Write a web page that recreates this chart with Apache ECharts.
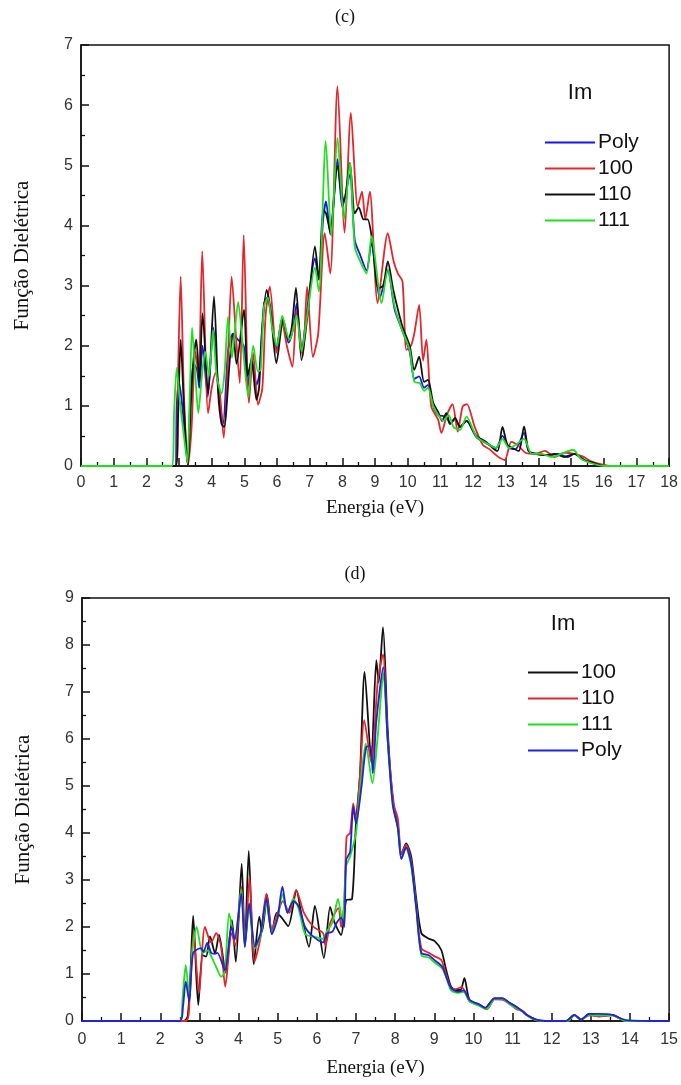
<!DOCTYPE html>
<html>
<head>
<meta charset="utf-8">
<script src="https://cdn.jsdelivr.net/npm/echarts@6/dist/echarts.min.js"></script>
<style>
html,body{margin:0;padding:0;background:#fff;}
#chart{width:681px;height:1085px;}
</style>
</head>
<body>
<div id="chart"></div>
<script>
// ---------- Panel (c) data: [energy (eV), Im] ----------
const c_poly = [[0,0],[2.88,0],[2.93,1.0],[3.0,1.4],[3.1,1.0],[3.26,0.05],[3.35,1.2],[3.45,1.7],[3.55,1.6],[3.62,1.3],[3.72,2.0],[3.88,1.15],[4.05,2.3],[4.2,1.3],[4.35,0.7],[4.5,1.9],[4.65,2.2],[4.8,2.1],[4.98,2.0],[5.1,1.3],[5.22,1.8],[5.37,1.35],[5.45,1.5],[5.6,2.7],[5.7,2.8],[5.98,1.95],[6.16,2.45],[6.35,2.05],[6.5,2.3],[6.6,2.7],[6.75,1.9],[6.92,2.6],[7.16,3.45],[7.28,3.1],[7.41,4.1],[7.5,4.4],[7.63,3.85],[7.85,5.1],[8.0,4.3],[8.23,4.85],[8.38,3.75],[8.55,3.5],[8.74,3.25],[8.89,3.7],[9.15,2.8],[9.39,3.25],[9.6,2.6],[9.8,2.3],[10.06,1.9],[10.2,1.45],[10.35,1.49],[10.5,1.3],[10.62,1.35],[10.78,1.0],[10.93,0.85],[11.18,0.82],[11.3,0.7],[11.45,0.78],[11.6,0.65],[11.8,0.75],[12.1,0.48],[12.4,0.38],[12.7,0.3],[12.9,0.5],[13.1,0.3],[13.3,0.28],[13.56,0.55],[13.7,0.25],[14.0,0.2],[14.3,0.18],[14.6,0.2],[14.9,0.15],[15.1,0.2],[15.4,0.1],[15.7,0.04],[16.0,0],[18,0]];
const c_100 = [[0,0],[2.9,0],[2.97,1.5],[3.05,3.15],[3.15,1.2],[3.27,0],[3.38,0.6],[3.5,1.9],[3.6,1.5],[3.71,3.57],[3.89,0.88],[4.0,1.3],[4.12,1.55],[4.25,1.2],[4.37,0.47],[4.5,1.8],[4.61,3.15],[4.75,2.1],[4.86,1.38],[4.98,3.84],[5.14,1.05],[5.27,1.88],[5.42,1.02],[5.55,1.3],[5.65,2.5],[5.78,2.98],[5.98,1.88],[6.14,2.43],[6.3,2.0],[6.47,1.65],[6.6,2.6],[6.79,1.82],[6.92,2.98],[7.1,1.81],[7.26,2.2],[7.46,3.87],[7.63,3.2],[7.85,6.31],[8.07,3.88],[8.26,5.87],[8.47,4.31],[8.6,4.56],[8.7,4.1],[8.84,4.56],[9.08,2.71],[9.39,3.87],[9.57,3.4],[9.7,3.2],[9.84,3.07],[9.96,1.93],[10.1,2.0],[10.2,2.2],[10.35,2.68],[10.47,1.75],[10.57,2.1],[10.72,0.99],[10.93,0.77],[11.03,0.55],[11.2,0.85],[11.37,1.03],[11.53,0.57],[11.68,0.99],[11.81,1.03],[12.05,0.65],[12.3,0.35],[12.5,0.28],[12.75,0.16],[12.97,0.1],[13.17,0.4],[13.4,0.33],[13.6,0.22],[13.9,0.2],[14.2,0.25],[14.5,0.15],[14.8,0.22],[15.1,0.2],[15.35,0.16],[15.6,0.08],[15.9,0.03],[16.2,0],[18,0]];
const c_110 = [[0,0],[2.9,0],[2.97,0.8],[3.05,2.1],[3.15,1.0],[3.27,0],[3.36,1.0],[3.44,1.75],[3.53,2.1],[3.62,1.4],[3.72,2.54],[3.89,1.21],[4.07,2.82],[4.2,1.2],[4.3,0.7],[4.38,0.65],[4.56,1.8],[4.66,2.2],[4.76,1.7],[4.99,2.6],[5.1,1.5],[5.22,1.75],[5.37,1.1],[5.45,1.3],[5.55,2.3],[5.68,2.93],[5.8,2.6],[5.98,1.71],[6.19,2.43],[6.35,2.1],[6.45,2.3],[6.58,2.96],[6.75,1.76],[6.95,2.6],[7.16,3.65],[7.28,3.1],[7.41,4.26],[7.5,4.2],[7.63,3.9],[7.85,5.0],[7.97,4.54],[8.05,4.4],[8.23,5.04],[8.38,4.2],[8.5,4.3],[8.65,4.1],[8.77,4.1],[8.9,3.8],[9.1,2.95],[9.25,3.0],[9.39,3.4],[9.55,2.95],[9.7,2.6],[9.85,2.3],[10.06,2.0],[10.2,1.6],[10.35,1.82],[10.5,1.4],[10.62,1.43],[10.78,1.05],[10.93,0.9],[11.05,0.75],[11.18,0.88],[11.3,0.7],[11.45,0.8],[11.6,0.65],[11.8,0.75],[12.1,0.5],[12.4,0.4],[12.6,0.3],[12.75,0.25],[12.9,0.65],[13.05,0.35],[13.2,0.3],[13.4,0.25],[13.56,0.66],[13.7,0.25],[13.9,0.2],[14.2,0.18],[14.5,0.2],[14.8,0.15],[15.1,0.2],[15.4,0.1],[15.7,0.05],[16.0,0],[18,0]];
const c_111 = [[0,0],[2.78,0],[2.85,0.9],[2.93,1.63],[3.02,1.1],[3.15,0.5],[3.26,0.05],[3.33,1.2],[3.4,2.3],[3.5,1.5],[3.59,0.88],[3.7,1.5],[3.8,1.9],[3.92,1.5],[4.04,2.26],[4.15,1.5],[4.3,1.2],[4.4,1.6],[4.5,2.48],[4.62,1.8],[4.7,2.2],[4.81,2.73],[4.95,2.0],[5.12,1.15],[5.27,2.0],[5.42,1.57],[5.5,1.6],[5.6,2.65],[5.72,2.8],[5.85,2.3],[6.0,2.0],[6.16,2.5],[6.3,2.2],[6.39,2.1],[6.5,2.3],[6.6,2.5],[6.75,1.9],[6.92,2.5],[7.16,3.3],[7.28,2.9],[7.49,5.4],[7.66,3.82],[7.85,5.46],[8.05,4.1],[8.23,5.04],[8.38,3.64],[8.55,3.4],[8.74,3.2],[8.89,3.82],[9.2,2.71],[9.39,3.27],[9.6,2.65],[9.8,2.3],[10.06,1.93],[10.2,1.4],[10.37,1.38],[10.5,1.25],[10.62,1.3],[10.78,1.0],[10.93,0.85],[11.1,0.75],[11.25,0.85],[11.4,0.65],[11.6,0.6],[11.8,0.82],[12.1,0.49],[12.4,0.38],[12.7,0.3],[12.9,0.45],[13.1,0.3],[13.3,0.35],[13.56,0.45],[13.8,0.2],[14.1,0.2],[14.4,0.15],[14.7,0.2],[15.06,0.27],[15.3,0.12],[15.6,0.05],[16.0,0],[18,0]];

// ---------- Panel (d) data ----------
const d_100 = [[0,0],[2.6,0],[2.7,0.1],[2.77,1.0],[2.84,2.24],[2.97,0.34],[3.08,1.4],[3.17,1.37],[3.27,1.8],[3.4,1.44],[3.5,1.83],[3.67,1.03],[3.83,2.15],[3.93,1.26],[4.08,3.35],[4.16,1.58],[4.26,3.62],[4.39,1.21],[4.53,2.22],[4.6,1.9],[4.73,2.68],[4.85,1.85],[4.97,2.3],[5.1,2.2],[5.27,2.02],[5.48,2.78],[5.6,2.3],[5.8,1.58],[5.95,2.45],[6.18,1.34],[6.34,2.43],[6.45,2.1],[6.62,1.83],[6.75,2.57],[6.9,2.6],[7.0,4.2],[7.1,5.2],[7.22,7.43],[7.39,5.55],[7.52,7.68],[7.58,7.2],[7.69,8.38],[7.81,6.2],[7.94,4.7],[8.07,4.15],[8.16,3.55],[8.28,3.78],[8.41,3.5],[8.54,2.6],[8.67,1.87],[8.86,1.75],[9.01,1.7],[9.18,1.51],[9.3,1.1],[9.43,0.73],[9.55,0.66],[9.67,0.66],[9.77,0.91],[9.9,0.45],[10.15,0.35],[10.3,0.28],[10.54,0.48],[10.75,0.48],[10.9,0.4],[11.1,0.3],[11.26,0.2],[11.4,0.11],[11.6,0.03],[11.85,0],[12.36,0],[12.58,0.13],[12.75,0.03],[12.96,0.15],[13.2,0.1],[13.55,0.13],[13.9,0],[15,0]];
const d_110 = [[0,0],[2.65,0],[2.75,0.5],[2.85,1.87],[2.99,0.6],[3.14,2.0],[3.3,1.67],[3.43,1.87],[3.55,1.6],[3.66,0.73],[3.82,1.87],[3.92,1.6],[4.07,2.86],[4.17,1.66],[4.28,3.07],[4.41,1.26],[4.56,1.77],[4.71,2.71],[4.85,1.95],[5.0,2.3],[5.13,2.55],[5.3,2.3],[5.47,2.79],[5.67,2.3],[5.92,2.0],[6.16,1.87],[6.22,1.6],[6.35,2.1],[6.55,2.4],[6.62,2.0],[6.7,2.5],[6.76,3.92],[6.85,4.0],[6.93,4.63],[7.0,4.3],[7.1,5.2],[7.21,6.4],[7.39,5.5],[7.56,7.26],[7.69,7.8],[7.81,6.0],[7.97,4.6],[8.07,4.3],[8.16,3.55],[8.28,3.75],[8.41,3.4],[8.54,2.45],[8.67,1.55],[8.86,1.45],[9.0,1.38],[9.18,1.3],[9.3,1.0],[9.43,0.7],[9.55,0.68],[9.7,0.72],[9.8,0.6],[9.9,0.42],[10.15,0.33],[10.35,0.25],[10.54,0.46],[10.75,0.45],[10.9,0.38],[11.1,0.25],[11.26,0.22],[11.4,0.1],[11.6,0.02],[11.85,0],[12.4,0],[12.58,0.12],[12.75,0.03],[12.96,0.12],[13.2,0.1],[13.55,0.12],[13.9,0],[15,0]];
const d_111 = [[0,0],[2.5,0],[2.57,0.5],[2.65,1.19],[2.74,0.53],[2.82,1.5],[2.93,2.0],[3.08,1.45],[3.2,1.5],[3.4,1.2],[3.56,0.94],[3.65,1.05],[3.76,2.29],[3.9,1.73],[4.07,2.8],[4.16,1.6],[4.27,2.4],[4.42,1.55],[4.56,1.8],[4.71,2.5],[4.85,1.9],[5.0,2.2],[5.12,2.7],[5.25,2.3],[5.4,2.6],[5.53,2.4],[5.7,1.85],[5.9,1.8],[6.16,1.75],[6.25,1.9],[6.4,2.1],[6.54,2.6],[6.65,2.1],[6.75,3.3],[6.85,3.5],[7.0,4.0],[7.1,4.9],[7.25,5.9],[7.42,5.06],[7.56,6.1],[7.7,7.4],[7.81,5.95],[7.94,4.6],[8.07,4.1],[8.16,3.45],[8.28,3.68],[8.41,3.3],[8.54,2.4],[8.67,1.4],[8.86,1.35],[9.0,1.25],[9.2,1.12],[9.3,0.95],[9.43,0.65],[9.6,0.6],[9.75,0.62],[9.9,0.42],[10.15,0.32],[10.35,0.26],[10.54,0.47],[10.75,0.47],[10.9,0.38],[11.1,0.27],[11.26,0.2],[11.4,0.1],[11.6,0.02],[11.85,0],[12.4,0],[12.58,0.12],[12.75,0.03],[12.96,0.13],[13.2,0.12],[13.55,0.12],[13.9,0],[15,0]];
const d_poly = [[0,0],[2.5,0],[2.58,0.3],[2.65,0.84],[2.74,0.42],[2.84,1.45],[3.04,1.55],[3.1,1.47],[3.2,1.66],[3.3,1.45],[3.39,1.43],[3.46,1.45],[3.65,1.08],[3.82,2.0],[3.9,1.73],[4.07,2.71],[4.16,1.58],[4.27,2.5],[4.42,1.58],[4.56,1.86],[4.71,2.6],[4.85,1.85],[5.0,2.2],[5.12,2.86],[5.25,2.3],[5.4,2.55],[5.53,2.45],[5.7,2.0],[5.9,1.8],[6.16,1.67],[6.25,1.86],[6.4,1.9],[6.5,2.08],[6.62,2.2],[6.7,2.0],[6.75,3.43],[6.85,3.6],[6.93,4.56],[7.0,4.2],[7.14,4.98],[7.26,5.83],[7.37,5.85],[7.43,5.27],[7.52,6.38],[7.7,7.53],[7.81,6.0],[7.94,4.6],[8.07,4.1],[8.16,3.45],[8.28,3.7],[8.41,3.35],[8.54,2.4],[8.67,1.45],[8.86,1.4],[9.0,1.3],[9.2,1.16],[9.3,0.95],[9.43,0.7],[9.6,0.62],[9.75,0.65],[9.9,0.45],[10.15,0.35],[10.3,0.28],[10.54,0.48],[10.75,0.48],[10.9,0.4],[11.1,0.3],[11.26,0.2],[11.4,0.11],[11.6,0.03],[11.85,0],[12.36,0],[12.58,0.13],[12.75,0.03],[12.96,0.15],[13.2,0.15],[13.55,0.13],[13.9,0.02],[15,0]];

// labels
const panelTitles = ['(c)', '(d)'];
const xAxisTitle = 'Energia (eV)';
const yAxisTitle = 'Função Dielétrica';
const legendHeader = 'Im';
const legendC = ['Poly', '100', '110', '111'];
const legendD = ['100', '110', '111', 'Poly'];

const COL = {blue:'#1414f5', red:'#e3262b', black:'#111111', green:'#1fe01f', navy:'#2222dd'};

const chart = echarts.init(document.getElementById('chart'), null, {renderer:'canvas'});

const serif = '"Liberation Serif", "DejaVu Serif", serif';
const sans = '"Liberation Sans", Arial, sans-serif';

function xAx(gi, max, margin, gap) {
  return {
    type:'value', gridIndex:gi, min:0, max:max, interval:1,
    name:xAxisTitle, nameLocation:'middle', nameGap:gap,
    nameTextStyle:{fontFamily:serif, fontSize:19, color:'#111'},
    axisLine:{show:true, onZero:false, lineStyle:{color:'#111', width:1.5}},
    axisTick:{show:true, inside:true, length:8, lineStyle:{color:'#111', width:1.5}},
    minorTick:{show:true, splitNumber:2, length:4, lineStyle:{color:'#111', width:1.3}},
    axisLabel:{fontFamily:sans, fontSize:16, color:'#333', margin:margin},
    splitLine:{show:false}
  };
}
function yAx(gi, max) {
  return {
    type:'value', gridIndex:gi, min:0, max:max, interval:1,
    name:yAxisTitle, nameLocation:'middle', nameGap:48, nameRotate:90,
    nameTextStyle:{fontFamily:serif, fontSize:21, color:'#111'},
    axisLine:{show:true, onZero:false, lineStyle:{color:'#111', width:1.5}},
    axisTick:{show:true, inside:true, length:8, lineStyle:{color:'#111', width:1.5}},
    minorTick:{show:true, splitNumber:2, length:4, lineStyle:{color:'#111', width:1.3}},
    axisLabel:{fontFamily:sans, fontSize:16, color:'#333', margin:8},
    splitLine:{show:false}
  };
}
function ser(name, data, color, gi) {
  return {
    type:'line', name:name, xAxisIndex:gi, yAxisIndex:gi, data:data,
    symbol:'none', smooth:0.25, animation:false,
    lineStyle:{color:color, width:1.8}, itemStyle:{color:color}
  };
}
function leg(names, left, top) {
  return {
    orient:'vertical', left:left, top:top, itemWidth:50, itemHeight:2, itemGap:1,
    icon:'rect',
    data:names, formatter:n=>n.slice(2),
    textStyle:{fontFamily:sans, fontSize:21, color:'#111', lineHeight:25, padding:[0,0,0,-2]}
  };
}

const option = {
  animation:false,
  backgroundColor:'#fff',
  title:[
    {text:panelTitles[0], left:340, top:3, textAlign:'center', textStyle:{fontFamily:serif, fontSize:18, fontWeight:'normal', color:'#111'}},
    {text:panelTitles[1], left:350, top:560, textAlign:'center', textStyle:{fontFamily:serif, fontSize:18, fontWeight:'normal', color:'#111'}},
    {text:legendHeader, left:575, top:77, textAlign:'center', textStyle:{fontFamily:sans, fontSize:22, fontWeight:'normal', color:'#111'}},
    {text:legendHeader, left:558, top:608, textAlign:'center', textStyle:{fontFamily:sans, fontSize:22, fontWeight:'normal', color:'#111'}}
  ],
  grid:[
    {left:81, right:11, top:45, height:421, show:true, borderColor:'#111', borderWidth:1.5, backgroundColor:'transparent'},
    {left:82, right:11, top:598, height:423, show:true, borderColor:'#111', borderWidth:1.5, backgroundColor:'transparent'}
  ],
  xAxis:[xAx(0,18,9,33), xAx(1,15,11,38)],
  yAxis:[yAx(0,7), yAx(1,9)],
  legend:[
    leg(legendC.map(s=>'c:'+s), 540, 125),
    leg(legendD.map(s=>'d:'+s), 523, 655)
  ],
  series:[
    ser('c:Poly', c_poly, COL.blue, 0),
    ser('c:100', c_100, COL.red, 0),
    ser('c:110', c_110, COL.black, 0),
    ser('c:111', c_111, COL.green, 0),
    ser('d:100', d_100, COL.black, 1),
    ser('d:110', d_110, COL.red, 1),
    ser('d:111', d_111, COL.green, 1),
    ser('d:Poly', d_poly, COL.navy, 1)
  ]
};
chart.setOption(option);
</script>
</body>
</html>
